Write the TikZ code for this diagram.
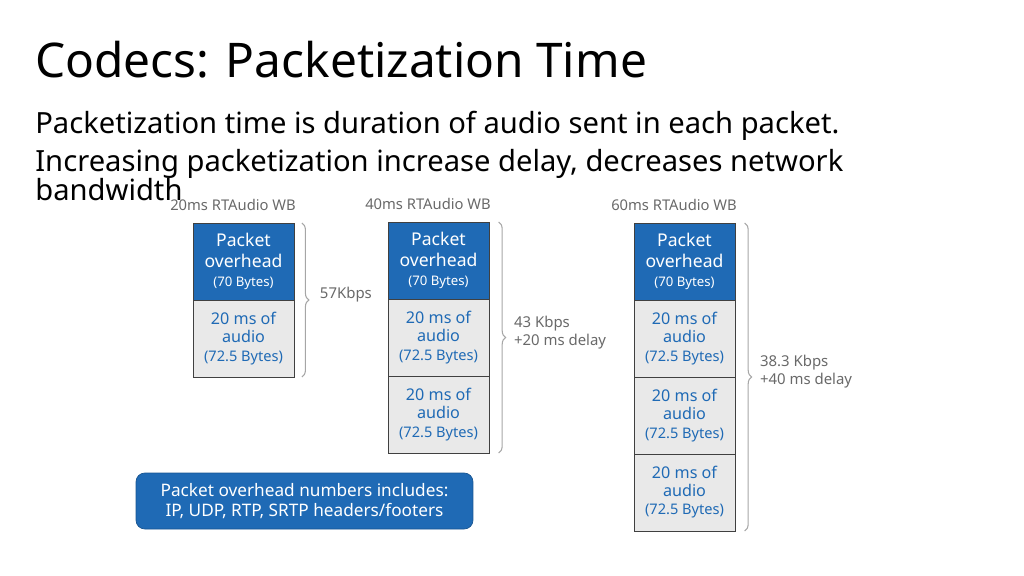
\documentclass[tikz,border=0pt]{standalone}
\usepackage{fontspec}
\setmainfont{Noto Sans}
\usetikzlibrary{positioning,decorations.pathreplacing}
\definecolor{ohblue}{RGB}{31,106,181}
\definecolor{cellgray}{RGB}{233,233,233}
\definecolor{cellline}{RGB}{64,64,64}
\definecolor{lblgray}{RGB}{105,105,105}

\newcommand{\ohtext}{Packet\\overhead\\[-1.5pt]{\fontsize{7.5}{8}\selectfont(70 Bytes)}}
\newcommand{\autext}{20 ms of\\audio\\{\fontsize{8.3}{9}\selectfont(72.5 Bytes)}}

\begin{document}
\begin{tikzpicture}[x=0.02cm,y=-0.02cm,
    overhead/.style={draw=cellline,fill=ohblue,text=white,line width=0.5pt,
      minimum width=2.02cm,minimum height=1.54cm,inner sep=0pt,outer sep=0pt,
      align=center,font=\fontsize{10}{12.2}\selectfont},
    audio/.style={overhead,fill=cellgray,text=ohblue,
      font=\fontsize{9.2}{10.3}\selectfont},
    caption/.style={text=lblgray,font=\fontsize{8.4}{10}\selectfont},
    rate/.style={text=lblgray,align=left,inner sep=0pt,yshift=3pt,
      font=\fontsize{8.5}{10.2}\selectfont},
    bracket/.style={draw=gray!70,line width=0.6pt,decorate,
      decoration={brace,amplitude=4pt}},
    bodyline/.style={anchor=base west,inner sep=0pt,font=\fontsize{16.6}{17}\selectfont}]

  \useasboundingbox (0,0) rectangle (1024,575);

  \node[anchor=base west,inner sep=0pt,font=\fontsize{27.2}{32}\selectfont]
    (title) at (35,77) {Codecs: Packetization Time};
  \node[bodyline] (line1) at (35,133) {Packetization time is duration of audio sent in each packet.};
  \node[bodyline] (line2) at (35,171) {Increasing packetization increase delay, decreases network};
  \node[bodyline] (line3) at (35,200) {bandwidth};

  % 20 ms
  \node[caption] (cap1) at (233,205) {20ms RTAudio WB};
  \node[overhead] (ov1) at (243.5,261.5) {\ohtext};
  \node[audio,below=0pt of ov1] (au1a) {\autext};
  \draw[bracket] ([xshift=4.5pt]ov1.north east) -- node[rate,midway,right=10pt] (r1) {57Kbps} ([xshift=4.5pt]au1a.south east);

  % 40 ms
  \node[caption] (cap2) at (428,204) {40ms RTAudio WB};
  \node[overhead] (ov2) at (438.5,260.5) {\ohtext};
  \node[audio,below=0pt of ov2] (au2a) {\autext};
  \node[audio,below=0pt of au2a] (au2b) {\autext};
  \draw[bracket] ([xshift=5.5pt]ov2.north east) -- node[rate,midway,right=8.5pt] (r2) {43 Kbps\\+20 ms delay} ([xshift=5.5pt]au2b.south east);

  % 60 ms
  \node[caption] (cap3) at (674,205) {60ms RTAudio WB};
  \node[overhead] (ov3) at (684.5,261.5) {\ohtext};
  \node[audio,below=0pt of ov3] (au3a) {\autext};
  \node[audio,below=0pt of au3a] (au3b) {\autext};
  \node[audio,below=0pt of au3b] (au3c) {\autext};
  \draw[bracket] ([xshift=5.5pt]ov3.north east) -- node[rate,midway,right=8.5pt] (r3) {38.3 Kbps\\+40 ms delay} ([xshift=5.5pt]au3c.south east);

  \node[fill=ohblue,draw=ohblue!80!black,line width=0.4pt,rounded corners=5pt,text=white,
    align=center,minimum width=6.74cm,minimum height=1.12cm,
    font=\fontsize{9.8}{11.6}\selectfont] (note) at (304.5,501)
    {Packet overhead numbers includes:\\IP, UDP, RTP, SRTP headers/footers};
\end{tikzpicture}
\end{document}
